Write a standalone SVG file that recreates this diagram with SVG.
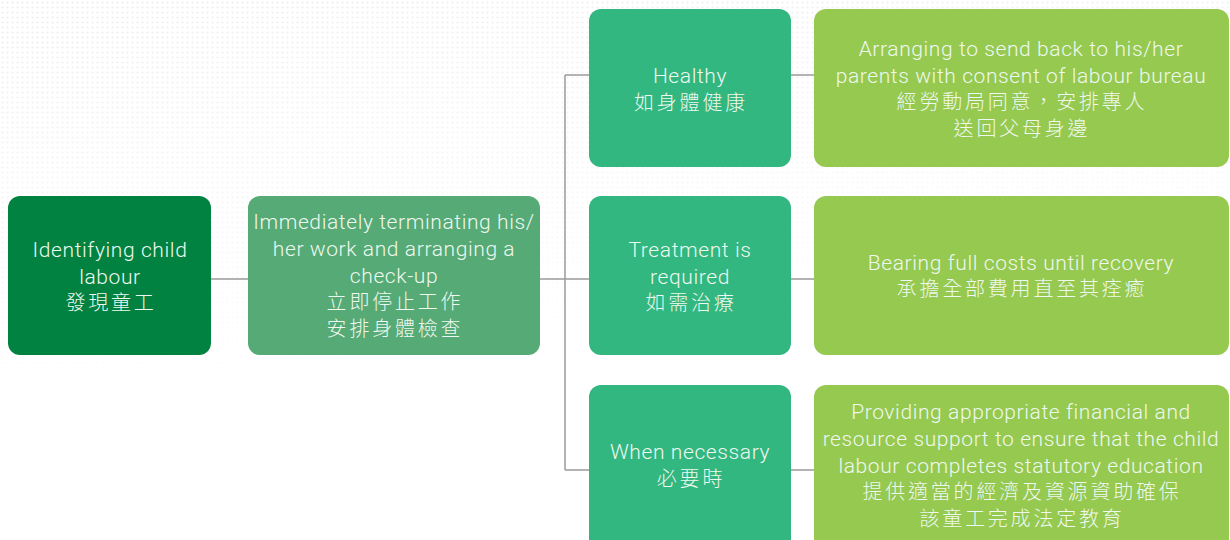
<svg xmlns="http://www.w3.org/2000/svg" width="1230" height="540" viewBox="0 0 1230 540">
<defs>
<pattern id="dots" width="5" height="5" patternUnits="userSpaceOnUse"><circle cx="2.5" cy="2.5" r="1.1" fill="#ececec"/></pattern>
<linearGradient id="fade" x1="0" y1="0" x2="0.25" y2="1"><stop offset="0" stop-color="#fff" stop-opacity="1"/><stop offset="0.75" stop-color="#fff" stop-opacity="0"/></linearGradient>
<mask id="m"><rect width="1230" height="540" fill="url(#fade)"/></mask>
</defs>
<style>
.t{font-family:Roboto,"Liberation Sans","Noto Sans CJK TC",sans-serif;font-weight:300;font-size:21px;letter-spacing:0.6px;fill:#eef8f0;text-anchor:middle}
.z{font-family:"Noto Sans CJK TC","Noto Sans CJK SC",sans-serif;font-weight:300;font-size:20px;letter-spacing:2.8px}
.c{stroke:#9a9a9a;stroke-width:1.5;fill:none}
.n1{fill:#028240}.n2{fill:#55aa75}.n3{fill:#31b77f}.n4{fill:#96c94f}
</style>
<rect width="1230" height="540" fill="#fff"/>
<rect width="1230" height="540" fill="url(#dots)" mask="url(#m)"/>
<g id="connectors">
<path class="c" d="M211 279H248M540 279H589M565 75V470M565 75H589M565 470H589M791 75H814M791 279H814M791 470H814"/>
</g>
<g id="n1"><rect class="n1" x="8" y="196" width="203" height="159" rx="12"/>
<text class="t" x="110" y="257">Identifying child</text><text class="t" x="110" y="284">labour</text><text class="t z" x="111" y="310">發現童工</text></g>
<g id="n2"><rect class="n2" x="248" y="196" width="292" height="159" rx="12"/>
<text class="t" x="394" y="229">Immediately terminating his/</text><text class="t" x="394" y="256">her work and arranging a</text><text class="t" x="394" y="283">check-up</text><text class="t z" x="395" y="309">立即停止工作</text><text class="t z" x="395" y="336">安排身體檢查</text></g>
<g id="n3"><rect class="n3" x="589" y="9" width="202" height="158" rx="12"/>
<text class="t" x="690" y="83">Healthy</text><text class="t z" x="691" y="110">如身體健康</text></g>
<g id="n4"><rect class="n3" x="589" y="196" width="202" height="159" rx="12"/>
<text class="t" x="690" y="257">Treatment is</text><text class="t" x="690" y="284">required</text><text class="t z" x="691" y="310">如需治療</text></g>
<g id="n5"><rect class="n3" x="589" y="385" width="202" height="170" rx="12"/>
<text class="t" x="690" y="459">When necessary</text><text class="t z" x="691" y="486">必要時</text></g>
<g id="n6"><rect class="n4" x="814" y="9" width="415" height="158" rx="12"/>
<text class="t" x="1021" y="56">Arranging to send back to his/her</text><text class="t" x="1021" y="83">parents with consent of labour bureau</text><text class="t z" x="1022" y="109">經勞動局同意，安排專人</text><text class="t z" x="1022" y="136">送回父母身邊</text></g>
<g id="n7"><rect class="n4" x="814" y="196" width="415" height="159" rx="12"/>
<text class="t" x="1021" y="270">Bearing full costs until recovery</text><text class="t z" x="1022" y="296">承擔全部費用直至其痊癒</text></g>
<g id="n8"><rect class="n4" x="814" y="385" width="415" height="170" rx="12"/>
<text class="t" x="1021" y="419">Providing appropriate financial and</text><text class="t" x="1021" y="446">resource support to ensure that the child</text><text class="t" x="1021" y="473">labour completes statutory education</text><text class="t z" x="1022" y="499">提供適當的經濟及資源資助確保</text><text class="t z" x="1022" y="526">該童工完成法定教育</text></g>
</svg>
